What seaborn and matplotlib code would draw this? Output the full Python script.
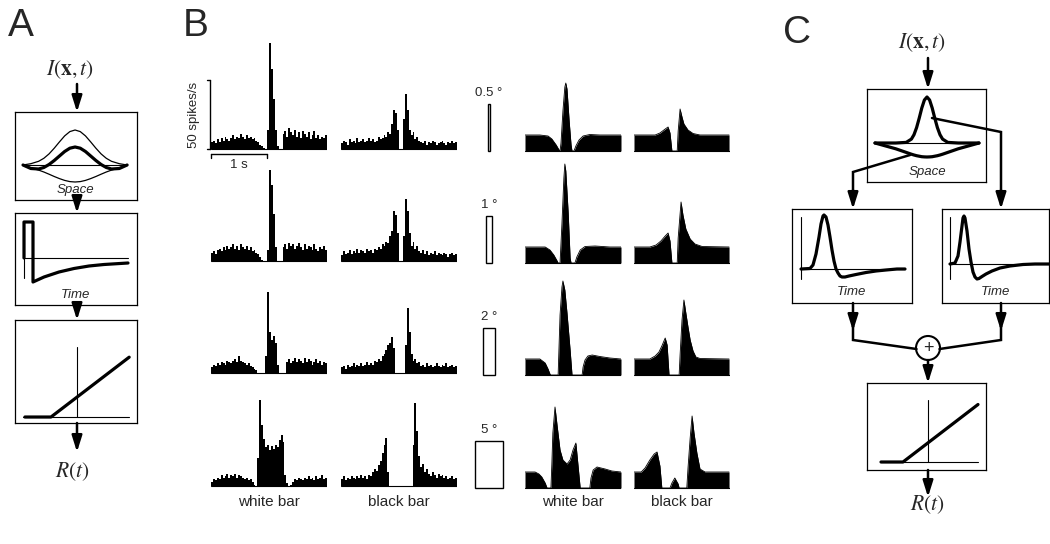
import numpy as np
import pandas as pd
import matplotlib.pyplot as plt
import seaborn as sns
from matplotlib.patches import Circle

# ---------------- data ----------------
# PSTHs (spikes/s), 60 bins spanning 2.07 s, rows = bar widths
bar_widths = [0.5, 1, 2, 5]  # degrees

psth_white = [
    [5, 6, 4, 7, 5, 8, 6, 9, 7, 6, 8, 10, 7, 9, 8, 11, 9, 7, 10, 8, 9, 7, 8, 6, 5, 3, 2,
     1, 0, 14, 77, 58, 36, 14, 2, 0, 0,
     11, 13, 9, 15, 12, 10, 14, 9, 12, 8, 13, 11, 9, 12, 7, 10, 13, 8, 10, 7, 9, 8, 10],
    [6, 7, 5, 8, 9, 7, 10, 8, 11, 9, 10, 12, 9, 11, 8, 12, 10, 9, 11, 8, 10, 7, 8, 6, 5, 3,
     1, 0, 0, 8, 66, 55, 34, 10, 0, 0, 0,
     10, 12, 9, 13, 11, 12, 9, 11, 13, 10, 8, 12, 9, 11, 10, 8, 12, 9, 7, 10, 9, 11, 8],
    [4, 6, 5, 7, 6, 8, 7, 6, 9, 8, 7, 9, 10, 8, 12, 9, 8, 7, 6, 7, 5, 4, 3, 2,
     0, 0, 0, 0, 12, 59, 30, 24, 27, 22, 6, 0, 0, 0, 0,
     8, 10, 7, 9, 11, 8, 10, 9, 7, 11, 8, 10, 9, 6, 8, 10, 7, 9, 6, 8, 7],
    [3, 5, 4, 6, 5, 8, 6, 7, 9, 6, 8, 7, 9, 6, 8, 7, 6, 5, 6, 4, 5, 3,
     1, 0, 20, 62, 44, 34, 28, 30, 26, 29, 27, 30, 28, 33, 37, 32, 8, 2, 0, 1,
     3, 5, 4, 6, 5, 4, 6, 5, 7, 5, 6, 4, 7, 5, 6, 8, 5, 6],
]
psth_black = [
    [4, 6, 5, 3, 7, 5, 6, 4, 8, 5, 6, 7, 5, 6, 8, 6, 7, 5, 6, 9, 7, 8, 10,
     9, 12, 11, 18, 28, 26, 14, 0, 0, 22, 40, 28, 14, 10, 12, 7, 9, 6,
     5, 4, 6, 3, 5, 4, 6, 5, 3, 4, 5, 6, 4, 3, 5, 4, 6, 4, 5],
    [4, 7, 5, 6, 8, 5, 7, 6, 9, 6, 8, 7, 6, 9, 7, 8, 6, 9, 8, 10,
     9, 12, 11, 14, 13, 18, 22, 36, 33, 20, 0, 0, 18, 45, 36, 20, 11, 14, 9, 11, 7,
     6, 8, 5, 7, 4, 6, 5, 7, 4, 6, 5, 4, 6, 5, 3, 5, 6, 4, 5],
    [4, 5, 3, 6, 4, 5, 7, 4, 6, 5, 7, 5, 6, 8, 6,
     7, 6, 9, 8, 10, 9, 12, 14, 17, 20, 22, 26, 18, 0, 0, 0, 0, 0,
     20, 47, 30, 14, 9, 10, 7, 8,
     5, 6, 4, 7, 5, 6, 4, 5, 7, 5, 4, 6, 5, 7, 4, 5, 6, 4, 5],
    [5, 7, 4, 6, 5, 7, 6, 5, 7, 6, 8, 6, 7, 5,
     8, 7, 10, 12, 11, 15, 18, 24, 30, 35, 10, 0, 0, 0, 0, 0, 0, 0, 0, 0, 0, 0, 0,
     30, 60, 40, 22, 14, 16, 10, 12,
     9, 7, 10, 8, 6, 9, 7, 8, 6, 7, 5, 6, 7, 5, 6],
]

# model responses: (time in s, response in arbitrary units)
model_white = [
    ([0, 0.31, 0.48, 0.56, 0.65, 0.71, 0.73, 0.75, 0.79, 0.83, 0.85, 0.875, 0.92, 0.96,
      0.98, 1.02, 1.06, 1.125, 1.21, 1.35, 1.56, 2.0],
     [16, 16, 15, 12, 6, 1, 0, 8, 40, 64, 68, 62, 30, 6, 0, 0, 5, 11, 15, 16.5, 16, 16]),
    ([0, 0.42, 0.52, 0.60, 0.67, 0.69, 0.73, 0.77, 0.81, 0.83, 0.85, 0.90, 0.94, 0.96,
      1.04, 1.08, 1.15, 1.25, 1.46, 1.77, 2.0],
     [16, 16, 13, 8, 2, 0, 0, 40, 85, 99, 92, 50, 5, 0, 0, 6, 13, 16.5, 17, 16, 16]),
    ([0, 0.31, 0.42, 0.48, 0.52, 0.54, 0.69, 0.71, 0.73, 0.77, 0.79, 0.83, 0.875, 0.94,
      0.98, 1.19, 1.21, 1.25, 1.31, 1.40, 1.56, 1.77, 2.0],
     [16, 16, 12, 6, 1, 0, 0, 30, 60, 88, 94, 85, 62, 25, 0, 0, 8, 15, 19, 20, 18.5, 17, 16]),
    ([0, 0.21, 0.29, 0.35, 0.42, 0.46, 0.54, 0.56, 0.58, 0.625, 0.67, 0.73, 0.79, 0.875,
      0.94, 1.0, 1.06, 1.10, 1.15, 1.35, 1.375, 1.42, 1.5, 1.67, 1.81, 2.0],
     [16, 16, 14, 11, 5, 0, 0, 25, 55, 81, 62, 38, 28, 24, 28, 38, 45, 25, 0, 0, 10, 18,
      21, 19, 17, 16]),
]
model_black = [
    ([0, 0.44, 0.54, 0.65, 0.71, 0.75, 0.79, 0.90, 0.92, 0.96, 1.0, 1.04, 1.125, 1.23,
      1.375, 1.98],
     [16, 16, 18, 22, 24, 18, 0, 0, 20, 42, 34, 27, 21, 17.5, 16, 16]),
    ([0, 0.33, 0.46, 0.56, 0.65, 0.71, 0.75, 0.79, 0.90, 0.92, 0.98, 1.02, 1.08, 1.17,
      1.27, 1.42, 1.98],
     [16, 16, 18, 22, 27, 30, 22, 0, 0, 25, 61, 48, 34, 24, 19, 16.5, 16]),
    ([0, 0.33, 0.44, 0.52, 0.58, 0.65, 0.69, 0.73, 0.94, 0.96, 1.0, 1.04, 1.08, 1.125,
      1.17, 1.23, 1.29, 1.375, 1.98],
     [16, 16, 19, 23, 29, 37, 30, 0, 0, 20, 55, 75, 62, 48, 35, 24, 18, 16.5, 16]),
    ([0, 0.15, 0.23, 0.33, 0.42, 0.48, 0.54, 0.58, 0.75, 0.79, 0.85, 0.92, 0.94, 1.10,
      1.125, 1.17, 1.21, 1.25, 1.31, 1.375, 1.48, 1.98],
     [16, 16, 20, 28, 34, 36, 22, 0, 0, 5, 10, 4, 0, 0, 20, 50, 72, 55, 35, 19, 16, 16]),
]

# diagram curves
space_x_a = [-1, -0.85, -0.7, -0.6, -0.5, -0.4, -0.3, -0.2, -0.1, 0,
             0.1, 0.2, 0.3, 0.4, 0.5, 0.6, 0.7, 0.85, 1]
center_a = [0, 1.3, 3.7, 6.7, 11.1, 16.8, 23.1, 29.1, 33.4, 35,
            33.4, 29.1, 23.1, 16.8, 11.1, 6.7, 3.7, 1.3, 0]
surround_a = [0, -2.9, -5.1, -7.0, -9.2, -11.5, -13.6, -15.4, -16.6, -17,
              -16.6, -15.4, -13.6, -11.5, -9.2, -7.0, -5.1, -2.9, 0]
dog_a = [0, -3.5, -4, -2.5, 0.5, 4.5, 9, 13.5, 16.8, 18,
         16.8, 13.5, 9, 4.5, 0.5, -2.5, -4, -3.5, 0]
pulse_t = [0, 0, 9, 9, 20, 35, 50, 65, 80, 104]
pulse_r = [0, 36, 36, -24, -19, -14, -10.5, -8, -6.5, -5]
thr_x = [-1, -0.5, 1]
thr_y = [0, 0, 1.15]

space_x_c = [-1, -0.8, -0.6, -0.4, -0.3, -0.25, -0.2, -0.15, -0.1, -0.05, 0,
             0.05, 0.1, 0.15, 0.2, 0.25, 0.3, 0.4, 0.6, 0.8, 1]
center_c = [0, 0, 0, 0.6, 3.9, 8.3, 15.4, 24.8, 35, 43, 46,
            43, 35, 24.8, 15.4, 8.3, 3.9, 0.6, 0, 0, 0]
surround_c = [0, -2.9, -5.8, -9.4, -11.2, -12, -12.7, -13.2, -13.7, -13.9, -14,
              -13.9, -13.7, -13.2, -12.7, -12, -11.2, -9.4, -5.8, -2.9, 0]
tk_left_t = [0, 9, 12, 15, 18, 20, 22, 23, 25, 27, 29, 31, 33, 35, 37, 39, 41, 44, 48,
             55, 65, 75, 85, 96, 104]
tk_left_r = [0, 0.5, 4, 15, 32, 45, 53, 54, 52, 44, 32, 19, 8, 0, -4, -7, -8, -8, -7,
             -5.5, -3.5, -2, -1, 0, 0]
tk_right_t = [0, 5, 8, 10, 12, 13, 14, 15, 17, 19, 21, 23, 25, 27, 29, 32, 36, 42, 50,
              60, 73, 85, 100]
tk_right_r = [0, 1, 8, 22, 38, 46, 48, 46, 33, 15, 2, -8, -13, -15, -14.5, -12.5, -10,
              -7, -4, -2, -0.5, 0, 0]

# ---------------- layout (pixels) ----------------
W, H = 1050, 544
HIST_X = {"white": 211, "black": 341}
HIST_W = 116
HIST_BASE = [149, 261, 373, 486]
MODEL_X = {"white": 525, "black": 634}
MODEL_W = 96
MODEL_BASE = [151, 263, 375, 488]
PX_PER_S = 56
K = 50 / 69  # spikes/s per pixel
PX_PER_DEG = 5.6
THICK, THIN, ARROW_LW = 2.3, 0.8, 1.8

sns.set_theme(style="white")
plt.rcParams["font.family"] = ["Liberation Sans", "DejaVu Sans"]
plt.rcParams["mathtext.fontset"] = "stix"

fig = plt.figure(figsize=(W / 100, H / 100), dpi=100)


def add_ax(x0, y0, x1, y1, xlim, ylim, frame=False):
    ax = fig.add_axes([x0 / W, 1 - y1 / H, (x1 - x0) / W, (y1 - y0) / H])
    ax.set_xlim(*xlim)
    ax.set_ylim(*ylim)
    ax.set_xticks([])
    ax.set_yticks([])
    ax.patch.set_alpha(0)
    for s in ax.spines.values():
        s.set_visible(frame)
        s.set_linewidth(0.9)
        s.set_color("black")
    return ax


# ---------------- panel B: PSTHs ----------------
dur = HIST_W / PX_PER_S
n_bins = len(psth_white[0])
bin_w = dur / n_bins
centers = (np.arange(n_bins) + 0.5) * bin_w
for r in range(4):
    base = HIST_BASE[r]
    for kind, vals in (("white", psth_white[r]), ("black", psth_black[r])):
        x0 = HIST_X[kind]
        ax = add_ax(x0, base - 112, x0 + HIST_W, base + 4, (0, dur), (-4 * K, 112 * K))
        df = pd.DataFrame({"t": centers, "rate": vals})
        sns.histplot(data=df, x="t", weights="rate", binwidth=bin_w, binrange=(0, dur),
                     element="step", fill=True, color="black", alpha=1, linewidth=0,
                     ax=ax)
        ax.set(xlabel="", ylabel="", xlim=(0, dur), ylim=(-4 * K, 112 * K))
        ax.set_xticks([])
        ax.set_yticks([])
        ax.axhline(0, color="black", lw=THIN)
        if r == 0 and kind == "white":
            # scale bars
            ax.plot([-0.02, -0.02], [0, 50], color="black", lw=1, clip_on=False)
            ax.plot([-0.07, -0.02], [50, 50], color="black", lw=1, clip_on=False)
            ax.plot([-0.07, -0.02], [0, 0], color="black", lw=1, clip_on=False)
            ax.plot([0, 1], [-5 * K, -5 * K], color="black", lw=1, clip_on=False)
            ax.plot([0, 0], [-5 * K, -9 * K], color="black", lw=1, clip_on=False)
            ax.plot([1, 1], [-5 * K, -9 * K], color="black", lw=1, clip_on=False)
            ax.text(0.5, -16 * K, "1 s", ha="center", va="center", fontsize=9.5)
            ax.text(-0.30, 25, "50 spikes/s", rotation=90, ha="center", va="center",
                    fontsize=9.5)

# ---------------- panel B: stimuli and model ----------------
for r in range(4):
    base = MODEL_BASE[r]
    sax = add_ax(470, base - 112, 508, base + 4,
                 (-19 / PX_PER_DEG, 19 / PX_PER_DEG), (-4 / PX_PER_DEG, 112 / PX_PER_DEG))
    bar_len = 47 / PX_PER_DEG
    sax.bar(0, bar_len, width=bar_widths[r], bottom=0, fill=False, edgecolor="black",
            linewidth=1)
    sax.text(0, bar_len + 0.9, f"{bar_widths[r]:g} °", ha="center", va="bottom",
             fontsize=9.5)
    for kind, (t, resp) in (("white", model_white[r]), ("black", model_black[r])):
        x0 = MODEL_X[kind]
        ax = add_ax(x0, base - 112, x0 + MODEL_W, base + 4, (0, 2.0), (-4, 112))
        ax.fill_between(t, resp, 0, color="black", lw=0)
        sns.lineplot(x=t, y=resp, sort=False, estimator=None, color="black", lw=0.6, ax=ax)
        ax.set(xlabel="", ylabel="")
        ax.axhline(0, color="black", lw=THIN)

# ---------------- panel A diagram ----------------
ax = add_ax(15, 112, 137, 200, (-1.154, 1.19), (-35, 53), frame=True)
ax.plot([-1, 1], [0, 0], color="black", lw=THIN)
ax.plot(space_x_a, center_a, color="black", lw=0.9)
ax.plot(space_x_a, surround_a, color="black", lw=0.9)
ax.plot(space_x_a, dog_a, color="black", lw=THICK)
ax.text(0, -25, "Space", style="italic", ha="center", va="center", fontsize=9.5)

ax = add_ax(15, 213, 137, 305, (-9, 113), (-47, 45), frame=True)
ax.plot([0, 104], [0, 0], color="black", lw=THIN)
ax.plot([0, 0], [-20, 35], color="black", lw=THIN)
ax.plot(pulse_t, pulse_r, color="black", lw=THICK)
ax.text(52, -37, "Time", style="italic", ha="center", va="center", fontsize=9.5)

ax = add_ax(15, 320, 137, 423, (-1.19, 1.15), (-0.115, 1.865), frame=True)
ax.plot([-1.03, 1], [0, 0], color="black", lw=THIN)
ax.plot([0, 0], [0, 1.35], color="black", lw=THIN)
ax.plot(thr_x, thr_y, color="black", lw=THICK)

# ---------------- panel C diagram ----------------
ax = add_ax(867, 89, 986, 182, (-1.154, 1.135), (-39, 54), frame=True)
ax.plot([-1, 1], [0, 0], color="black", lw=THIN)
ax.plot(space_x_c, surround_c, color="black", lw=THICK)
ax.plot(space_x_c, center_c, color="black", lw=THICK)
ax.text(0, -29, "Space", style="italic", ha="center", va="center", fontsize=9.5)

ax = add_ax(792, 209, 912, 303, (-9, 111), (-34, 60), frame=True)
ax.plot([0, 104], [0, 0], color="black", lw=THIN)
ax.plot([0, 0], [-10, 52], color="black", lw=THIN)
ax.plot(tk_left_t, tk_left_r, color="black", lw=THICK)
ax.text(51, -23, "Time", style="italic", ha="center", va="center", fontsize=9.5)

ax = add_ax(942, 209, 1049, 303, (-8, 99), (-39, 55), frame=True)
ax.plot([0, 99], [0, 0], color="black", lw=THIN)
ax.plot([0, 0], [-15, 47], color="black", lw=THIN)
ax.plot(tk_right_t, tk_right_r, color="black", lw=THICK)
ax.text(45, -28, "Time", style="italic", ha="center", va="center", fontsize=9.5)

ax = add_ax(867, 383, 986, 470, (-1.22, 1.16), (-0.16, 1.58), frame=True)
ax.plot([-0.94, 1], [0, 0], color="black", lw=THIN)
ax.plot([0, 0], [0, 1.24], color="black", lw=THIN)
ax.plot([-0.94, -0.5, 1], thr_y, color="black", lw=THICK)

# ---------------- overlay: arrows, connectors, labels ----------------
ov = fig.add_axes([0, 0, 1, 1], zorder=5)
ov.set_xlim(0, W)
ov.set_ylim(H, 0)
ov.axis("off")
ov.patch.set_alpha(0)


def arrow(x, y0, y1):
    ov.annotate("", xy=(x, y1), xytext=(x, y0),
                arrowprops=dict(arrowstyle="-|>,head_length=0.7,head_width=0.22",
                                color="black", lw=ARROW_LW, mutation_scale=14,
                                shrinkA=0, shrinkB=0))


def line(xs, ys):
    ov.plot(xs, ys, color="black", lw=ARROW_LW, solid_joinstyle="miter")


for y0, y1 in ((84, 112), (200, 213), (305, 320), (423, 452)):
    arrow(77, y0, y1)

arrow(928, 58, 89)
line([910, 853, 853], [155, 172, 195])
arrow(853, 190, 209)
line([932, 1001, 1001], [118, 132, 195])
arrow(1001, 190, 209)
arrow(853, 303, 331)
arrow(1001, 303, 331)
line([853, 853, 916.5], [326, 340, 349])
line([1001, 1001, 939.5], [326, 340, 349])
ov.add_patch(Circle((928, 348), 12, fill=False, ec="black", lw=1.5))
ov.text(928, 348.5, "+", ha="center", va="center", fontsize=13)
arrow(928, 360, 383)
arrow(928, 470, 497)

ov.text(8, 36, "A", fontsize=28, ha="left", va="baseline")
ov.text(183, 36, "B", fontsize=28, ha="left", va="baseline")
ov.text(783, 43, "C", fontsize=28, ha="left", va="baseline")
ov.text(70, 70, r"$I(\mathbf{x},t)$", fontsize=15.5, ha="center", va="center")
ov.text(72, 472, r"$R(t)$", fontsize=15.5, ha="center", va="center")
ov.text(922, 43, r"$I(\mathbf{x},t)$", fontsize=15.5, ha="center", va="center")
ov.text(927, 505, r"$R(t)$", fontsize=15.5, ha="center", va="center")

for x, s in ((269, "white bar"), (399, "black bar"), (573, "white bar"), (682, "black bar")):
    ov.text(x, 502, s, ha="center", va="center", fontsize=11)

fig.savefig("out.png", dpi=100)
